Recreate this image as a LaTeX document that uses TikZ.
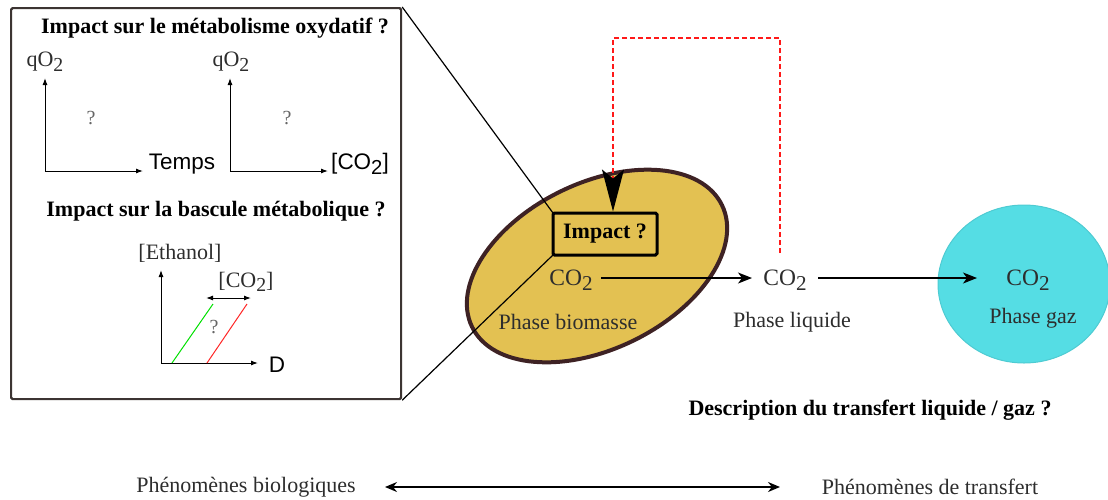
\documentclass[tikz,border=0pt]{standalone}
\usepackage{fontspec}
\setmainfont{Liberation Serif}
\setsansfont{Liberation Sans}
\usetikzlibrary{arrows.meta,shapes.geometric}
\definecolor{bio}{RGB}{227,193,82}
\definecolor{bioedge}{RGB}{62,34,36}
\definecolor{gaz}{RGB}{85,221,228}
\definecolor{txt}{RGB}{45,45,45}
\definecolor{panelc}{RGB}{60,52,50}
\newcommand\cotwo{CO\raisebox{-0.45ex}{\scalebox{0.9}{2}}}
\tikzset{
  lbl/.style={font=\fontsize{22}{25}\selectfont, text=txt, inner sep=2},
  colbl/.style={font=\fontsize{23.5}{26}\selectfont, text=txt, inner sep=2},
  ttl/.style={font=\bfseries\fontsize{22}{25}\selectfont, text=black, inner sep=2},
  sflbl/.style={font=\sffamily\fontsize{22.5}{25}\selectfont, text=black, inner sep=2},
  qm/.style={font=\fontsize{20}{22}\selectfont, text=black!60, inner sep=1},
  ax/.style={-{Latex[length=7,width=5]}, line width=1},
  flow/.style={-{Stealth[length=14,width=11,inset=4]}, line width=1.3},
}
\begin{document}
\begin{tikzpicture}[x=1pt,y=-1pt]
\useasboundingbox (0,0) rectangle (1108,499);
% ---------- left panel ----------
\node[draw=panelc, line width=2.2, rounded corners=1.5, minimum width=390, minimum height=391, inner sep=0, anchor=north west] (panel) at (10,7) {};
\node[ttl] (t1) at (215,28) {Impact sur le métabolisme oxydatif ?};
% graph 1
\coordinate (o1) at (45,171);
\coordinate (y1) at (45,78);
\coordinate (x1) at (143,171);
\draw[ax] (o1) -- (y1);
\draw[ax] (o1) -- (x1);
\node[lbl] (q1) at (45,62) {qO\raisebox{-0.45ex}{\scalebox{0.9}{2}}};
\node[qm] (m1) at (91,118) {?};
\node[sflbl] (temps) at (182,164) {Temps};
% graph 2
\coordinate (o2) at (230,171);
\coordinate (y2) at (230,78);
\coordinate (x2) at (328,171);
\draw[ax] (o2) -- (y2);
\draw[ax] (o2) -- (x2);
\node[lbl] (q2) at (231,62) {qO\raisebox{-0.45ex}{\scalebox{0.9}{2}}};
\node[qm] (m2) at (287,118) {?};
\node[sflbl] (cc) at (360,164) {[CO\raisebox{-0.45ex}{\scalebox{0.9}{2}}]};
% graph 3
\node[ttl] (t2) at (216,211) {Impact sur la bascule métabolique ?};
\coordinate (o3) at (161,363);
\coordinate (y3) at (161,270);
\coordinate (x3) at (258,363);
\draw[ax] (o3) -- (y3);
\draw[ax] (o3) -- (x3);
\node[lbl] (eth) at (180,253) {[Ethanol]};
\node[sflbl] (dd) at (277,365) {D};
\node[lbl] (c3) at (246,282) {[\cotwo]};
\coordinate (ga) at (172,363);
\coordinate (gb) at (213,304);
\coordinate (ra) at (207,363);
\coordinate (rb) at (247,304);
\draw[green!80!black!60!green, line width=1] (ga) -- (gb);
\draw[red!85!white, line width=1] (ra) -- (rb);
\coordinate (da) at (206,298);
\coordinate (db) at (251,298);
\draw[{Latex[length=7,width=5]}-{Latex[length=7,width=5]}, line width=1] (da) -- (db);
\node[qm] (m3) at (214,327) {?};
% ---------- biomass ----------
\node[ellipse, draw=bioedge, fill=bio, line width=4, minimum width=278, minimum height=166, inner sep=0, rotate=26] (biom) at (597,266) {};
\draw[line width=1.2] (panel.north east) -- (553,213);
\draw[line width=1.2] (panel.south east) -- (553,255);
\node[draw=black, fill=bio, line width=3, rounded corners=1.5, minimum width=104, minimum height=42, inner sep=0,
      font=\bfseries\fontsize{22}{25}\selectfont] (impact) at (605,234) {Impact ?};
\node[colbl] (cob) at (571,280) {\cotwo};
\node[lbl] (pb) at (568,322) {Phase biomasse};
% ---------- liquid ----------
\node[colbl] (col) at (785,280) {\cotwo};
\node[lbl] (pl) at (792,322) {Phase liquide};
% ---------- gas ----------
\node[ellipse, fill=gaz, draw=gaz!92!black, line width=1, minimum width=172, minimum height=158, inner sep=0] (gas) at (1024,284) {};
\node[colbl] (cog) at (1028,280) {\cotwo};
\node[lbl] (pg) at (1033,318) {Phase gaz};
% ---------- flows ----------
\coordinate (fs) at (601,278);
\coordinate (fe) at (752,278);
\coordinate (gs) at (818,278);
\coordinate (ge) at (977,278);
\draw[flow] (fs) -- (fe);
\draw[flow] (gs) -- (ge);
% red dashed feedback
\coordinate (fb) at (780,253);
\coordinate (corner) at (613,38);
\draw[red!90!white, dashed, dash pattern=on 5 off 3, line width=1.5,
      -{Stealth[length=42,width=22,inset=9,color=black]}] (fb) |- (corner) -- (corner |- impact.north);
% ---------- texts ----------
\node[ttl] (desc) at (870,410) {Description du transfert liquide / gaz ?};
\node[lbl] (pbio) at (246,487) {Phénomènes biologiques};
\node[lbl] (ptr) at (930,487) {Phénomènes de transfert};
\coordinate (ba) at (385,487);
\coordinate (bb) at (780,487);
\draw[{Stealth[length=12,width=10]}-{Stealth[length=12,width=10]}, line width=1.5] (ba) -- (bb);
\end{tikzpicture}
\end{document}
